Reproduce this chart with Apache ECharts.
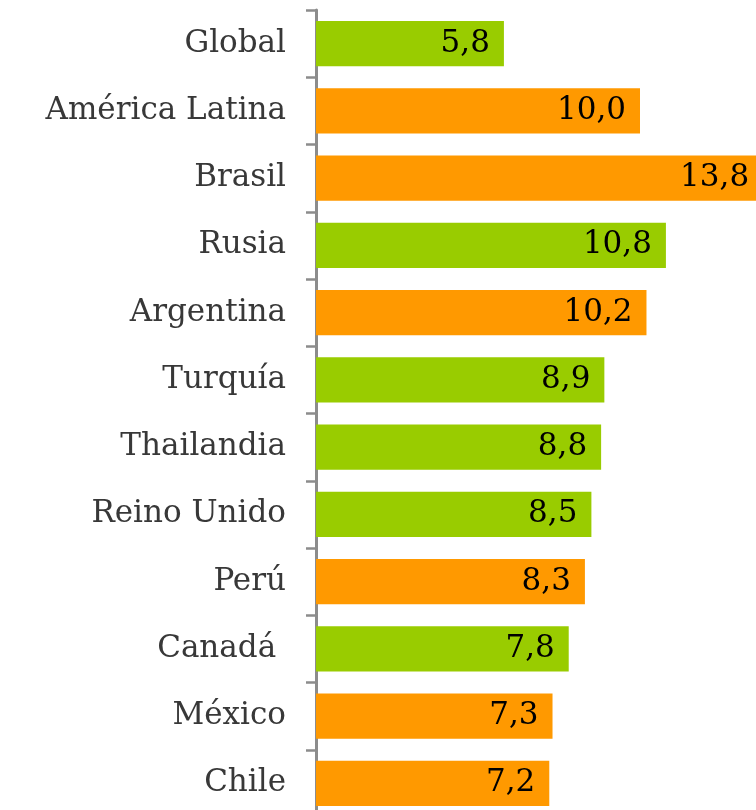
<!DOCTYPE html>
<html>
<head>
<meta charset="utf-8">
<script src="https://cdn.jsdelivr.net/npm/echarts@6/dist/echarts.min.js"></script>
<style>
html,body{margin:0;padding:0;background:#fff;}
#chart{width:756px;height:810px;}
</style>
</head>
<body>
<div id="chart"></div>
<script>
const categories = ['Global', 'América Latina', 'Brasil', 'Rusia', 'Argentina', 'Turquía', 'Thailandia', 'Reino Unido', 'Perú', 'Canadá ', 'México', 'Chile'];
const values = [5.8, 10.0, 13.8, 10.8, 10.2, 8.9, 8.8, 8.5, 8.3, 7.8, 7.3, 7.2];
const isLatam = [false, true, true, false, true, false, false, false, true, false, true, true];

const GREEN = '#99CC00';
const ORANGE = '#FF9900';
const FONT = 'DejaVu Serif';

const chart = echarts.init(document.getElementById('chart'));
chart.setOption({
  animation: false,
  grid: { left: 316, top: 10, bottom: -7, width: 14 * 32.4, outerBoundsMode: 'none' },
  xAxis: {
    type: 'value', min: 0, max: 14,
    show: false, splitLine: { show: false }
  },
  yAxis: {
    type: 'category', data: categories, inverse: true, offset: 2,
    axisLine: { show: true, lineStyle: { color: '#8c8c8c', width: 3 } },
    axisTick: { show: true, length: 10, lineStyle: { color: '#8c8c8c', width: 2.5 } },
    axisLabel: { margin: 28, color: '#383838', fontFamily: FONT, fontSize: 31 }
  },
  series: [{
    type: 'bar',
    barCategoryGap: '33%',
    data: values.map((v, i) => ({ value: v, itemStyle: { color: isLatam[i] ? ORANGE : GREEN } })),
    label: {
      show: true, position: 'insideRight', distance: 14,
      color: '#000', fontFamily: FONT, fontSize: 31,
      formatter: p => p.value.toFixed(1).replace('.', ',')
    }
  }]
});
</script>
</body>
</html>
